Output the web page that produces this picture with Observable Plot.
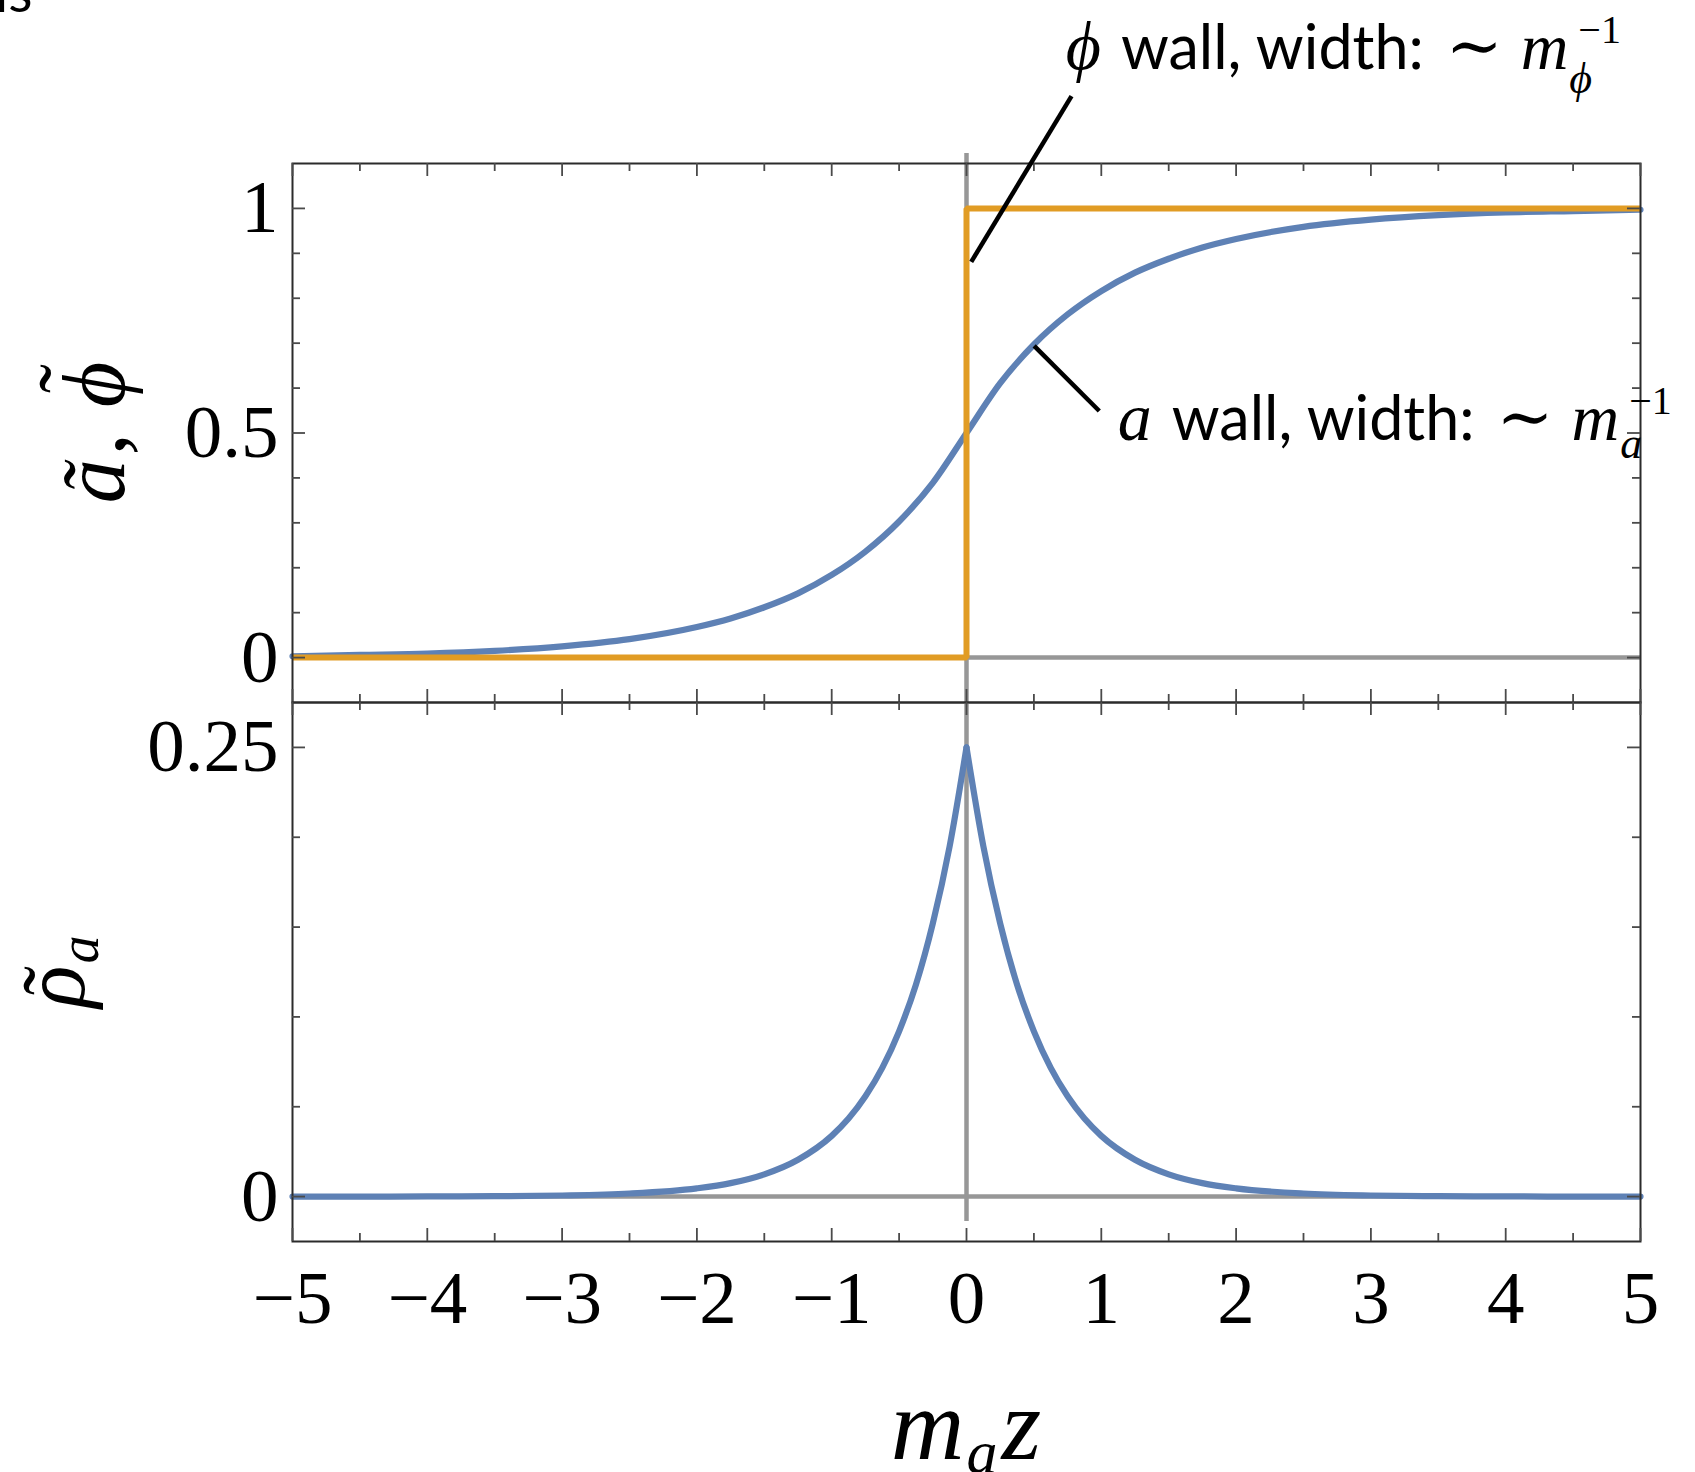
<!DOCTYPE html>
<html><head><meta charset="utf-8">
<script src="https://cdn.jsdelivr.net/npm/d3@7"></script>
<script src="https://cdn.jsdelivr.net/npm/@observablehq/plot@0.6"></script>
<style>
html,body{margin:0;padding:0;background:#fff;}
#wrap{position:relative;width:1695px;height:1472px;overflow:hidden;background:#fff;}
#wrap > svg{position:absolute;left:0;max-width:none;}
text{white-space:pre;}
</style></head><body><div id="wrap"></div>
<script>
// ---- data ----
const zA = [-5,-4.5,-4,-3.5,-3,-2.5,-2,-1.75,-1.5,-1.25,-1,-0.75,-0.5,-0.25,0,0.25,0.5,0.75,1,1.25,1.5,1.75,2,2.5,3,3.5,4,4.5,5];
const aTilde = [0.003,0.006,0.009,0.015,0.025,0.041,0.068,0.087,0.112,0.143,0.184,0.236,0.303,0.389,0.5,0.611,0.697,0.764,0.816,0.857,0.888,0.913,0.932,0.959,0.975,0.985,0.991,0.994,0.997];
const zPhi = [-5, 0, 0, 5];
const phiTilde = [0, 0, 1, 1];
const zRho = [-5,-4.5,-4,-3.5,-3,-2.5,-2,-1.75,-1.5,-1.25,-1,-0.875,-0.75,-0.625,-0.5,-0.375,-0.25,-0.125,0,0.125,0.25,0.375,0.5,0.625,0.75,0.875,1,1.25,1.5,1.75,2,2.5,3,3.5,4,4.5,5];
const rhoA = [0,0,0.0001,0.0002,0.0006,0.0017,0.0046,0.0075,0.0124,0.0205,0.0338,0.0434,0.0558,0.0716,0.092,0.118,0.152,0.195,0.25,0.195,0.152,0.118,0.092,0.0716,0.0558,0.0434,0.0338,0.0205,0.0124,0.0075,0.0046,0.0017,0.0006,0.0002,0.0001,0,0];
const xMajor = [-5,-4,-3,-2,-1,0,1,2,3,4,5];
const xMinor = [-4.5,-3.5,-2.5,-1.5,-0.5,0.5,1.5,2.5,3.5,4.5];
const yUpperMajor = [0, 0.5, 1];
const yUpperMinor = [0.1,0.2,0.3,0.4,0.6,0.7,0.8,0.9];
const yLowerMajor = [0, 0.25];
const yLowerMinor = [0.05,0.1,0.15,0.2];
// annotation anchors (data coordinates)
const upperAxisX = [{x: 0, y1: -0.1, y2: 1.122}];
const lowerAxisX = [{x: 0, y1: -0.0139, y2: 0.275}];
const leaders = [{x1: 0.035, y1: 0.881, x2: 0.779, y2: 1.25}, {x1: 0.502, y1: 0.694, x2: 0.985, y2: 0.549}];
const notes = [{x: 0.74, y: 1.31, lead: "ϕ", sub: "ϕ", subShift: 24}, {x: 1.126, y: 0.483, lead: "a", sub: "a", subShift: 18}];

// ---- styles ----
const gray = "#979797", blue = "#5E81B5", orange = "#E19C24", frameC = "#2b2b2b", tickC = "#4a4a4a";
const serif = "'Liberation Serif', 'DejaVu Serif', serif";
const sans = "Lato, 'Open Sans', sans-serif";
const FH = 539, FW = 1348;
const fmt = d => d < 0 ? "−" + Math.abs(d) : String(d);

function frameTicks(xs, ys, len) {
  const o = {stroke: tickC, strokeWidth: 1.8};
  return [
    Plot.tickX(xs, {x: d => d, insetTop: FH - len, ...o}),
    Plot.tickX(xs, {x: d => d, insetBottom: FH - len, ...o}),
    Plot.tickY(ys, {y: d => d, insetRight: FW - len, ...o}),
    Plot.tickY(ys, {y: d => d, insetLeft: FW - len, ...o})
  ];
}

const upperData = zA.map((z, i) => ({z, v: aTilde[i]}));
const phiData = zPhi.map((z, i) => ({z, v: phiTilde[i]}));
const rhoData = [];
zRho.forEach((z, i) => {
  if (z <= 0) rhoData.push({z, v: rhoA[i], side: "L"});
  if (z >= 0) rhoData.push({z, v: rhoA[i], side: "R"});
});

const common = {width: 1695, marginLeft: 292, marginRight: 55,
  x: {domain: [-5, 5], axis: null},
  style: {background: "transparent", overflow: "visible", fontFamily: serif}};

const up = Plot.plot({
  ...common, height: 710, marginTop: 163, marginBottom: 8,
  y: {domain: [-0.1, 1.1], axis: null},
  marks: [
    Plot.ruleY([0], {stroke: gray, strokeWidth: 4.5}),
    Plot.ruleX(upperAxisX, {x: "x", y1: "y1", y2: "y2", stroke: gray, strokeWidth: 4.5}),
    Plot.line(upperData, {x: "z", y: "v", stroke: blue, strokeWidth: 6.2, curve: "monotone-x"}),
    Plot.line(phiData, {x: "z", y: "v", stroke: orange, strokeWidth: 6, strokeLinejoin: "miter", strokeLinecap: "butt"}),
    Plot.frame({stroke: frameC, strokeWidth: 2}),
    ...frameTicks(xMajor, yUpperMajor, 13),
    ...frameTicks(xMinor, yUpperMinor, 8),
    Plot.text(yUpperMajor, {y: d => d, frameAnchor: "left", dx: -14, textAnchor: "end", lineAnchor: "middle", text: fmt, fontSize: 75, fontFamily: serif, fill: "#000"}),
    Plot.link(leaders, {x1: "x1", y1: "y1", x2: "x2", y2: "y2", stroke: "#000", strokeWidth: 4.5, strokeLinecap: "butt"})
  ]
});
up.style.top = "0px";

const lo = Plot.plot({
  ...common, height: 778, marginTop: 8, marginBottom: 231,
  y: {domain: [-0.025, 0.275], axis: null},
  marks: [
    Plot.ruleY([0], {stroke: gray, strokeWidth: 4.5}),
    Plot.ruleX(lowerAxisX, {x: "x", y1: "y1", y2: "y2", stroke: gray, strokeWidth: 4.5}),
    Plot.line(rhoData, {x: "z", y: "v", z: "side", stroke: blue, strokeWidth: 6.2, curve: "monotone-x"}),
    Plot.frame({stroke: frameC, strokeWidth: 2}),
    ...frameTicks(xMajor, yLowerMajor, 13),
    ...frameTicks(xMinor, yLowerMinor, 8),
    Plot.text(yLowerMajor, {y: d => d, frameAnchor: "left", dx: -14, textAnchor: "end", lineAnchor: "middle", text: fmt, fontSize: 75, fontFamily: serif, fill: "#000"}),
    Plot.text(xMajor, {x: d => d, frameAnchor: "bottom", dy: 28, textAnchor: "middle", lineAnchor: "top", text: fmt, fontSize: 75, fontFamily: serif, fill: "#000"})
  ]
});
lo.style.top = "694px";

const wrap = document.getElementById("wrap");
wrap.append(up);
wrap.append(lo);

function rich(parent, x, y, parts, anchor) {
  const g = parent.append("g").attr("text-anchor", "start");
  let cursor = 0, prevStart = 0, prevW = 0;
  for (const p of parts) {
    const t = g.append("text")
      .attr("font-family", p.fam || serif)
      .attr("font-size", p.size)
      .attr("font-style", p.italic ? "italic" : "normal")
      .attr("text-anchor", "start")
      .attr("fill", "#000")
      .text(p.t);
    if (p.over) {
      t.attr("text-anchor", "middle").attr("x", prevStart + prevW / 2 + (p.dx || 0)).attr("y", -(p.raise || 0));
      continue;
    }
    const sx = (p.atPrev ? prevStart : cursor) + (p.gap || 0);
    t.attr("x", sx).attr("y", p.shift || 0);
    const w = t.node().getComputedTextLength();
    prevStart = sx; prevW = w;
    cursor = Math.max(cursor, sx + w);
  }
  const off = anchor === "middle" ? -cursor / 2 : 0;
  g.attr("transform", `translate(${x + off},${y})`);
  return g;
}

const sx = up.scale("x"), sy = up.scale("y");
const U = d3.select(up), L = d3.select(lo);
for (const n of notes) {
  rich(U, sx.apply(n.x), sy.apply(n.y), [
    {t: n.lead, size: 68, italic: true},
    {t: "wall, width:", fam: sans, size: 61, gap: 20},
    {t: "∼", size: 68, gap: 22},
    {t: "m", size: 66, italic: true, gap: 18},
    {t: n.sub, size: 44, italic: true, shift: n.subShift, gap: 1},
    {t: "−1", size: 40, atPrev: true, gap: 9, shift: -26}
  ]);
}
// cut-off fragment at the top-left corner
U.append("text").attr("x", -5).attr("y", 12).attr("text-anchor", "start").attr("font-family", sans).attr("font-size", 56).attr("fill", "#000").text("ls");

// y labels
rich(U.append("g").attr("transform", `translate(124,${(163 + 702) / 2}) rotate(-90)`), 0, 0, [
  {t: "ã", size: 88, italic: true},
  {t: ",", size: 88, gap: 4},
  {t: "ϕ", size: 88, italic: true, gap: 26},
  {t: "˜", size: 88, over: true, raise: 24, dx: 6}
], "middle");
rich(L.append("g").attr("transform", `translate(84,${(8 + 547) / 2}) rotate(-90)`), 0, 0, [
  {t: "ρ", size: 88, italic: true},
  {t: "˜", size: 88, over: true, raise: 0, dx: 6},
  {t: "a", size: 56, italic: true, shift: 14, gap: 2}
], "middle");
// x label
rich(L, sx.apply(0), 765, [
  {t: "m", size: 102, italic: true},
  {t: "a", size: 62, italic: true, shift: 14, gap: 2},
  {t: "z", size: 102, italic: true, gap: 4}
], "middle");
</script></body></html>
